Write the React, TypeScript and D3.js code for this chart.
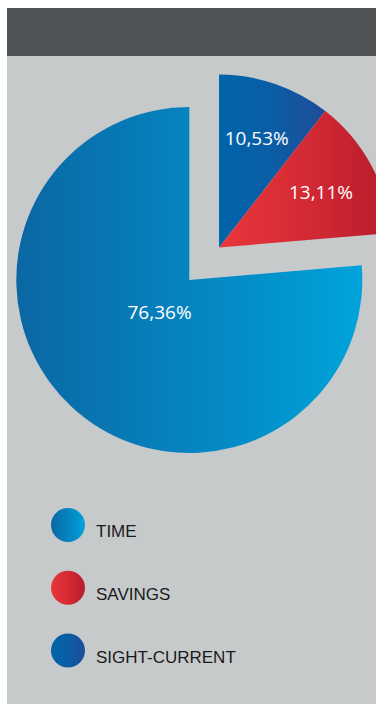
import React from "react";
import * as d3 from "d3";

// Legend order
const categories = ["TIME", "SAVINGS", "SIGHT-CURRENT"];
const shares = [76.36, 13.11, 10.53];
const shareLabels = ["76,36%", "13,11%", "10,53%"];
// gradient colours (left -> right)
const gradStops = [
  ["#0a67a3", "#0584c0", "#00a3db"],
  ["#e9363c", "#d42a34", "#b51c2b"],
  ["#0064a9", "#0a5ea5", "#1f4c98"],
];
const exploded = [false, true, true];

export default function App() {
  const W = 376;
  const H = 705;
  const cx = 189.3;
  const cy = 280;
  const R = 173;
  const explodeDist = 44;

  // drawing order clockwise from 12 o'clock: SIGHT-CURRENT, SAVINGS, TIME
  const drawOrder = [2, 1, 0];
  const pie = d3
    .pie<number>()
    .sort(null)
    .value((i) => shares[i]);
  const arcs = pie(drawOrder);
  const arc = d3.arc<d3.PieArcDatum<number>>().innerRadius(0).outerRadius(R);

  const explodedArcs = arcs.filter((a) => exploded[a.data]);
  const exStart = d3.min(explodedArcs, (a) => a.startAngle) ?? 0;
  const exEnd = d3.max(explodedArcs, (a) => a.endAngle) ?? 0;
  const exMid = (exStart + exEnd) / 2;
  const ox = explodeDist * Math.sin(exMid);
  const oy = -explodeDist * Math.cos(exMid);

  const labelPos = (a: d3.PieArcDatum<number>) => {
    const mid = (a.startAngle + a.endAngle) / 2;
    const r = exploded[a.data] ? 116 : 44;
    const dx = exploded[a.data] ? ox : 0;
    const dy = exploded[a.data] ? oy : 0;
    return [dx + r * Math.sin(mid), dy - r * Math.cos(mid)];
  };

  const legendY = d3.scalePoint<number>().domain(d3.range(categories.length)).range([525, 650.5]);

  return (
    <svg
      width={W}
      height={H}
      style={{ position: "absolute", left: 0, top: 0 }}
      xmlns="http://www.w3.org/2000/svg"
    >
      <defs>
        {gradStops.map((s, i) => (
          <linearGradient key={i} id={`g${i}`} x1="0" y1="0" x2="1" y2="0">
            <stop offset="0" stopColor={s[0]} />
            <stop offset="0.5" stopColor={s[1]} />
            <stop offset="1" stopColor={s[2]} />
          </linearGradient>
        ))}
      </defs>
      <rect x={0} y={0} width={W} height={H} fill="#ffffff" />
      <rect x={7} y={8} width={W - 7} height={696} fill="#c7cacb" />
      <rect x={7} y={8} width={W - 7} height={48} fill="#515457" />

      <g transform={`translate(${cx},${cy})`}>
        {arcs.map((a) => (
          <path
            key={a.data}
            d={arc(a) || ""}
            fill={`url(#g${a.data})`}
            transform={exploded[a.data] ? `translate(${ox},${oy})` : undefined}
          />
        ))}
        {arcs.map((a) => {
          const [x, y] = labelPos(a);
          return (
            <text
              key={"l" + a.data}
              x={x}
              y={y}
              dy="0.35em"
              textAnchor="middle"
              fill="#ffffff"
              fontFamily="'Open Sans', sans-serif"
              fontSize={19}
            >
              {shareLabels[a.data]}
            </text>
          );
        })}
      </g>

      {categories.map((c, i) => (
        <g key={c} transform={`translate(0,${legendY(i)})`}>
          <circle cx={68} cy={0} r={17} fill={`url(#g${i})`} />
          <text
            x={96}
            y={12}
            fill="#1a1a1a"
            fontFamily="'Liberation Sans', Arial, sans-serif"
            fontSize={17}
          >
            {c}
          </text>
        </g>
      ))}
    </svg>
  );
}
